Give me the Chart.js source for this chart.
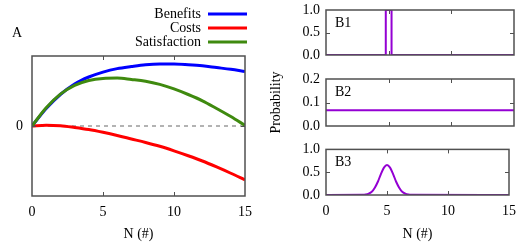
<!DOCTYPE html>
<html>
<head>
<meta charset="utf-8">
<script src="https://cdn.jsdelivr.net/npm/chart.js@4.4.1/dist/chart.umd.min.js"></script>
<style>
html, body { margin: 0; padding: 0; background: #fff; }
#wrap { position: relative; width: 524px; height: 245px; overflow: hidden; }
.box { position: absolute; }
</style>
</head>
<body>
<div id="wrap">
    <div class="box" style="left:0;top:0;width:260px;height:245px"><canvas id="chartA"></canvas></div>
    <div class="box" style="left:260px;top:-10px;width:264px;height:80px"><canvas id="chartB1"></canvas></div>
    <div class="box" style="left:260px;top:40px;width:264px;height:120px"><canvas id="chartB2"></canvas></div>
    <div class="box" style="left:260px;top:135px;width:264px;height:110px"><canvas id="chartB3"></canvas></div>
</div>
<script>
// ---- DATOS ----
// Panel A: valores leidos en N = 0..15
const nValues = [0, 1, 2, 3, 4, 5, 6, 7, 8, 9, 10, 11, 12, 13, 14, 15];
const benefits = [0, 0.25, 0.45, 0.6, 0.7, 0.77, 0.82, 0.85, 0.875, 0.885, 0.885, 0.875, 0.86, 0.835, 0.81, 0.78];
const costs = [0, 0.012, 0.005, -0.02, -0.05, -0.09, -0.135, -0.185, -0.235, -0.29, -0.355, -0.425, -0.5, -0.585, -0.675, -0.77];
const satisfaction = [0, 0.26, 0.455, 0.58, 0.65, 0.68, 0.685, 0.665, 0.64, 0.595, 0.53, 0.45, 0.36, 0.25, 0.135, 0.01];
const seriesNames = ['Benefits', 'Costs', 'Satisfaction'];
const zeroLineN = [0, 15];
const zeroLineY = [0, 0];

// Panel B1: pulso en N = 5
const b1N = [0, 4.77, 4.77, 5.23, 5.23, 15];
const b1P = [0, 0, 1, 1, 0, 0];
// Panel B2: uniforme
const b2N = [0, 15];
const b2P = [0.067, 0.067];
// Panel B3: campana centrada en 5
const b3N = [0, 3, 3.25, 3.5, 3.75, 4, 4.25, 4.5, 4.75, 5, 5.25, 5.5, 5.75, 6, 6.25, 6.5, 6.75, 7, 15];
const b3P = [0, 0.003, 0.01, 0.03, 0.07, 0.16, 0.29, 0.46, 0.6, 0.66, 0.6, 0.46, 0.29, 0.16, 0.07, 0.03, 0.01, 0.003, 0];

const panelLabels = ['A', 'B1', 'B2', 'B3'];
const xTitle = 'N (#)';
const yTitleB = 'Probability';

const COLORS = { benefits: '#0000ff', costs: '#ff0000', satisfaction: '#3f8a0f', prob: '#9400d3', zero: '#9a9a9a', frame: '#505050' };

Chart.defaults.font.family = "'Liberation Serif', 'DejaVu Serif', serif";
Chart.defaults.font.size = 14;
Chart.defaults.color = '#000';
Chart.defaults.animation = false;

const toPoints = (xs, ys) => xs.map((x, i) => ({ x: x, y: ys[i] }));

// marco estilo gnuplot con ticks hacia adentro
const framePlugin = {
    id: 'frame',
    afterDatasetsDraw(chart) {
        const { ctx, chartArea: a, scales } = chart;
        ctx.save();
        ctx.strokeStyle = COLORS.frame;
        ctx.lineWidth = 1;
        const tl = 4;
        const xs = scales.x, ys = scales.y;
        xs.ticks.forEach(t => {
            if (t.value <= xs.min || t.value >= xs.max) return;
            const px = Math.round(xs.getPixelForValue(t.value)) + 0.5;
            ctx.beginPath();
            ctx.moveTo(px, a.bottom); ctx.lineTo(px, a.bottom - tl);
            ctx.moveTo(px, a.top); ctx.lineTo(px, a.top + tl);
            ctx.stroke();
        });
        ys.ticks.forEach(t => {
            if (t.value <= ys.min || t.value >= ys.max) return;
            const py = Math.round(ys.getPixelForValue(t.value)) + 0.5;
            ctx.beginPath();
            ctx.moveTo(a.left, py); ctx.lineTo(a.left + tl, py);
            ctx.moveTo(a.right, py); ctx.lineTo(a.right - tl, py);
            ctx.stroke();
        });
        ctx.lineWidth = 1.5;
        ctx.strokeRect(a.left, a.top, a.width, a.height);
        ctx.restore();
    },
    afterDraw(chart) {
        const { ctx, chartArea: a } = chart;
        const lab = chart.options.plugins.panelLabel;
        if (lab) {
            ctx.save();
            ctx.fillStyle = '#000';
            ctx.font = "14px 'Liberation Serif'";
            ctx.textBaseline = 'middle';
            ctx.textAlign = 'left';
            ctx.fillText(lab.text, a.left + lab.dx, a.top + lab.dy);
            ctx.restore();
        }
        const leg = chart.options.plugins.seriesLegend;
        if (leg) {
            ctx.save();
            ctx.font = "14px 'Liberation Serif'";
            ctx.textBaseline = 'middle';
            ctx.textAlign = 'right';
            leg.items.forEach((idx, row) => {
                const ds = chart.data.datasets[idx];
                const y = leg.y + row * leg.dy;
                ctx.fillStyle = '#000';
                ctx.fillText(ds.label, leg.x, y);
                ctx.strokeStyle = ds.borderColor;
                ctx.lineWidth = 3;
                ctx.beginPath();
                ctx.moveTo(leg.x + 7, y);
                ctx.lineTo(leg.x + 46, y);
                ctx.stroke();
            });
            ctx.restore();
        }
    }
};
Chart.register(framePlugin);

function xScale(showLabels, height) {
    return {
        type: 'linear', min: 0, max: 15,
        grid: { display: false, drawTicks: false },
        border: { display: false },
        ticks: { display: showLabels, stepSize: 5, padding: 8, maxRotation: 0 },
        title: { display: showLabels, text: xTitle, padding: { top: 0, bottom: 2 } },
        afterFit: s => { s.height = height; }
    };
}

function curve(label, xs, ys, color, width, order) {
    return {
        label: label, data: toPoints(xs, ys), borderColor: color, borderWidth: width,
        cubicInterpolationMode: 'monotone', pointRadius: 0, order: order
    };
}

// ---- PANEL A ----
const zeroDs = curve('zero', zeroLineN, zeroLineY, COLORS.zero, 1.5, 5);
zeroDs.borderDash = [4, 4];

new Chart(document.getElementById('chartA'), {
    type: 'line',
    data: {
        datasets: [
            curve(seriesNames[0], nValues, benefits, COLORS.benefits, 3, 1),
            curve(seriesNames[1], nValues, costs, COLORS.costs, 3, 2),
            curve(seriesNames[2], nValues, satisfaction, COLORS.satisfaction, 3, 0),
            zeroDs
        ]
    },
    options: {
        responsive: true,
        maintainAspectRatio: false,
        layout: { padding: { top: 56, right: 11, left: 0, bottom: 0 } },
        scales: {
            x: xScale(true, 49),
            y: {
                min: -1, max: 1,
                grid: { display: false, drawTicks: false },
                border: { display: false },
                ticks: { padding: 9 },
                afterBuildTicks: s => { s.ticks = [{ value: 0 }]; },
                afterFit: s => { s.width = 32; }
            }
        },
        plugins: {
            legend: { display: false },
            tooltip: { enabled: false },
            panelLabel: { text: panelLabels[0], dx: -20, dy: -23 },
            seriesLegend: { items: [0, 1, 2], x: 201, y: 14, dy: 14 }
        }
    }
});

// ---- PANELES B ----
function probChart(id, xs, ys, opts) {
    const ds = curve(opts.label, xs, ys, COLORS.prob, 2, 0);
    if (!opts.smooth) ds.cubicInterpolationMode = 'default';
    return new Chart(document.getElementById(id), {
        type: 'line',
        data: { datasets: [ds] },
        options: {
            responsive: true,
            maintainAspectRatio: false,
            layout: { padding: { top: opts.top, right: 10, left: 0, bottom: 0 } },
            scales: {
                x: xScale(opts.showX, opts.xHeight),
                y: {
                    min: 0, max: opts.yMax,
                    grid: { display: false, drawTicks: false },
                    border: { display: false },
                    ticks: { stepSize: opts.yMax / 2, padding: 6, callback: v => v.toFixed(1) },
                    title: { display: !!opts.yTitle, text: opts.yTitle || '', padding: { top: 8, bottom: 0 } },
                    afterFit: s => { s.width = 66; }
                }
            },
            plugins: {
                legend: { display: false },
                tooltip: { enabled: false },
                panelLabel: { text: opts.label, dx: 9, dy: 13 }
            }
        }
    });
}

probChart('chartB1', b1N, b1P, { label: panelLabels[1], top: 20, xHeight: 15, showX: false, yMax: 1 });
probChart('chartB2', b2N, b2P, { label: panelLabels[2], top: 39, xHeight: 34, showX: false, yMax: 0.2, yTitle: yTitleB });
probChart('chartB3', b3N, b3P, { label: panelLabels[3], top: 14, xHeight: 50, showX: true, yMax: 1, smooth: true });
</script>
</body>
</html>
